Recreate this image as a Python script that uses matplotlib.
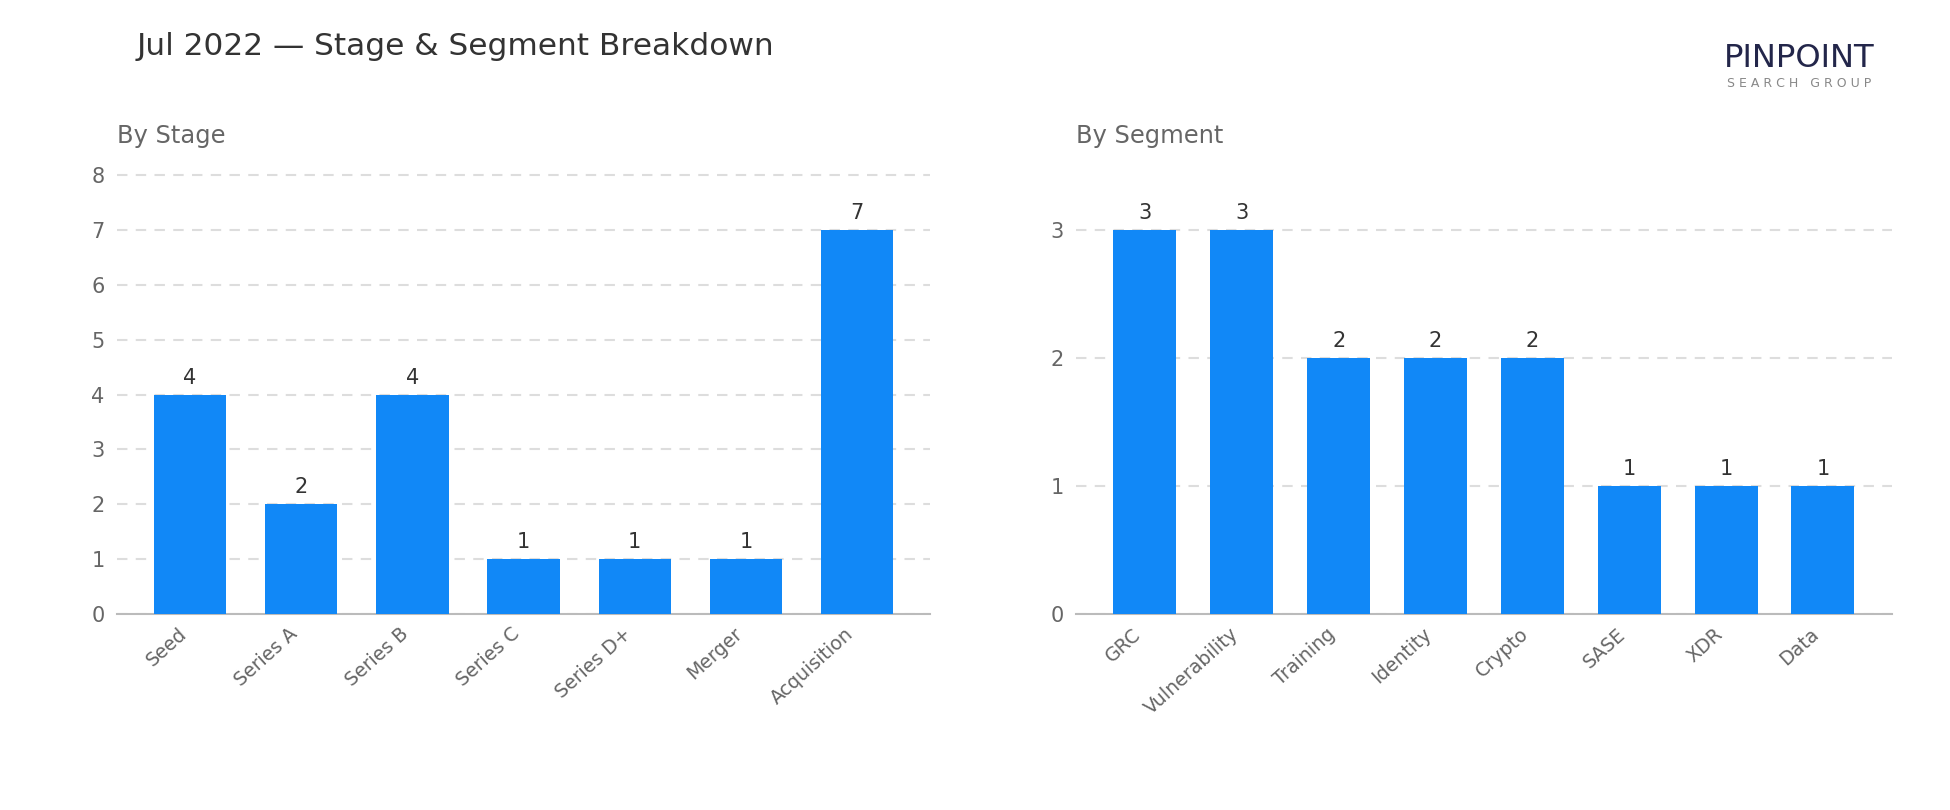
import matplotlib.pyplot as plt

stages = ["Seed", "Series A", "Series B", "Series C", "Series D+", "Merger", "Acquisition"]
stage_counts = [4, 2, 4, 1, 1, 1, 7]

segments = ["GRC", "Vulnerability", "Training", "Identity", "Crypto", "SASE", "XDR", "Data"]
segment_counts = [3, 3, 2, 2, 2, 1, 1, 1]

bar_color = "#1188F7"
grid_color = "#DDDDDD"
tick_color = "#666666"

fig = plt.figure(figsize=(13, 5.4), dpi=150)
ax1 = fig.add_axes([0.060, 0.242, 0.417, 0.545])
ax2 = fig.add_axes([0.552, 0.242, 0.418, 0.545])


def draw_panel(ax, labels, values, title):
    xs = range(len(labels))
    bars = ax.bar(xs, values, width=0.65, color=bar_color, zorder=3)
    top = max(values)
    ax.set_yticks(range(0, top + 2 if top > 5 else top + 1))
    ax.set_ylim(0, top * 1.15)
    ax.set_xticks(list(xs))
    ax.set_xticklabels(labels, rotation=42, ha="right")
    ax.tick_params(axis="y", length=0, colors=tick_color, labelsize=10, pad=6)
    ax.tick_params(axis="x", length=0, colors=tick_color, labelsize=9.1, pad=5)
    ax.grid(axis="y", color=grid_color, linestyle=(0, (5, 4)), linewidth=1, zorder=0)
    for side in ["top", "right", "left"]:
        ax.spines[side].set_visible(False)
    ax.spines["bottom"].set_color("#BBBBBB")
    ax.spines["bottom"].set_linewidth(1)
    for b, v in zip(bars, values):
        ax.text(b.get_x() + b.get_width() / 2, v + top * 0.018, str(v),
                ha="center", va="bottom", fontsize=10, color="#333333")
    ax.set_title(title, loc="left", fontsize=11.6, color=tick_color, pad=14)


draw_panel(ax1, stages, stage_counts, "By Stage")
draw_panel(ax2, segments, segment_counts, "By Segment")

fig.text(0.070, 0.943, "Jul 2022 \u2014 Stage & Segment Breakdown", fontsize=15,
         color="#333333", ha="left", va="center")

# logo
fig.text(0.9225, 0.928, "PINPOINT", fontsize=15.5, color="#23264A", ha="center", va="center")
fig.text(0.9225, 0.897, "S E A R C H   G R O U P", fontsize=6, color="#888888",
         ha="center", va="center")

fig.savefig("out.png", dpi=150)
